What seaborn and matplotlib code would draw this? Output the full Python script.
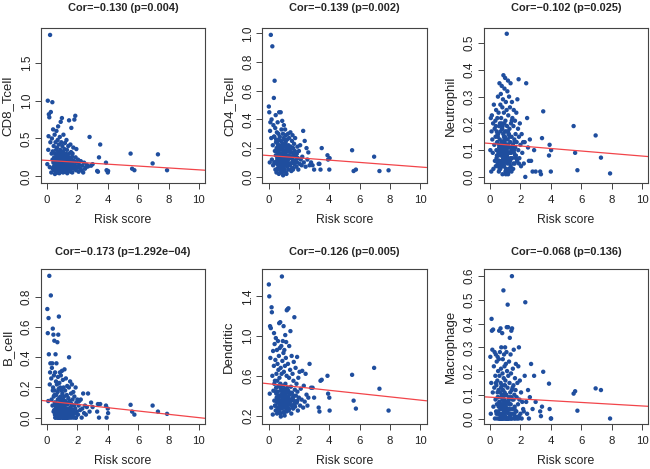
import numpy as np
import pandas as pd
import seaborn as sns
import matplotlib
matplotlib.use("Agg")
import matplotlib.pyplot as plt

# 风险评分（各面板共用同一批样本）
risk_score = [
    0.02, 0.05, 0.08, 0.10, 0.12, 0.15, 0.18, 0.20, 0.22, 0.25,
    0.28, 0.30, 0.32, 0.35, 0.36, 0.38, 0.40, 0.42, 0.44, 0.45,
    0.47, 0.48, 0.50, 0.52, 0.53, 0.55, 0.56, 0.58, 0.59, 0.60,
    0.61, 0.62, 0.64, 0.65, 0.66, 0.68, 0.69, 0.70, 0.71, 0.72,
    0.73, 0.74, 0.76, 0.77, 0.78, 0.80, 0.81, 0.82, 0.84, 0.85,
    0.86, 0.87, 0.88, 0.90, 0.91, 0.92, 0.94, 0.95, 0.96, 0.98,
    0.99, 1.00, 1.01, 1.02, 1.04, 1.05, 1.06, 1.08, 1.09, 1.10,
    1.11, 1.12, 1.14, 1.15, 1.16, 1.18, 1.19, 1.20, 1.22, 1.24,
    1.25, 1.27, 1.28, 1.30, 1.31, 1.33, 1.35, 1.36, 1.38, 1.40,
    1.42, 1.44, 1.45, 1.47, 1.50, 1.52, 1.54, 1.56, 1.58, 1.60,
    1.62, 1.64, 1.66, 1.68, 1.70, 1.73, 1.75, 1.78, 1.80, 1.84,
    1.86, 1.88, 1.90, 1.93, 1.96, 2.00, 2.04, 2.08, 2.12, 2.18,
    2.22, 2.28, 2.32, 2.38, 2.44, 2.50, 2.56, 2.62, 2.70, 2.80,
    0.54, 0.67, 0.79, 0.89, 0.97, 1.03, 1.13, 1.21, 1.29, 1.37,
    0.57, 0.75, 0.93, 1.07, 1.17, 1.26, 1.34, 1.46, 1.55, 1.65,
    2.90, 3.00, 3.30, 3.35, 3.42, 3.50, 3.88, 3.92, 4.00, 4.02,
    5.50, 5.60, 5.75, 6.95, 7.30, 7.90,
    0.43, 0.51, 0.63, 0.72, 0.83, 0.88, 0.96, 1.04, 1.12, 1.18,
    0.60, 0.70, 0.78, 0.86, 0.94, 1.01, 1.09, 1.23, 1.32, 1.43,
    0.66, 0.74, 0.82, 0.91, 0.99, 1.06, 1.15, 1.28, 1.41, 1.57,
    0.49, 0.59, 0.69, 0.77, 0.85, 1.00, 1.10, 1.19, 1.48, 1.70,
    0.38, 0.64, 0.81, 0.92, 1.05, 1.14, 1.24, 1.39, 1.61, 1.90,
]

cd8_tcell = [
    0.16, 1.00, 0.35, 0.53, 0.82, 0.78, 0.12, 1.87, 0.45, 0.85,
    0.05, 0.30, 0.50, 0.98, 0.22, 0.10, 0.62, 0.18, 0.40, 0.08,
    0.25, 0.12, 0.55, 0.03, 0.30, 0.18, 0.45, 0.08, 0.22, 0.35,
    0.14, 0.60, 0.28, 0.05, 0.38, 0.20, 0.10, 0.48, 0.25, 0.15,
    0.66, 0.32, 0.08, 0.22, 0.42, 0.16, 0.04, 0.28, 0.52, 0.12,
    0.20, 0.35, 0.06, 0.72, 0.15, 0.26, 0.45, 0.10, 0.30, 0.77,
    0.18, 0.08, 0.40, 0.24, 0.12, 0.32, 0.05, 0.55, 0.20, 0.14,
    0.28, 0.10, 0.36, 0.18, 0.06, 0.44, 0.22, 0.12, 0.30, 0.16,
    0.08, 0.26, 0.48, 0.14, 0.35, 0.04, 0.20, 0.28, 0.11, 0.40,
    0.18, 0.30, 0.74, 0.09, 0.24, 0.15, 0.42, 0.06, 0.32, 0.64,
    0.12, 0.22, 0.05, 0.30, 0.16, 0.38, 0.10, 0.20, 0.75, 0.14,
    0.80, 0.25, 0.08, 0.36, 0.18, 0.12, 0.22, 0.06, 0.15, 0.10,
    0.20, 0.08, 0.14, 0.05, 0.18, 0.10, 0.12, 0.15, 0.13, 0.52,
    0.10, 0.18, 0.26, 0.12, 0.20, 0.15, 0.24, 0.09, 0.17, 0.13,
    0.22, 0.13, 0.17, 0.28, 0.11, 0.19, 0.07, 0.21, 0.10, 0.26,
    0.14, 0.16, 0.07, 0.06, 0.25, 0.42, 0.18, 0.08, 0.05, 0.07,
    0.30, 0.10, 0.08, 0.17, 0.29, 0.08,
    0.12, 0.20, 0.08, 0.26, 0.15, 0.22, 0.10, 0.18, 0.28, 0.06,
    0.17, 0.09, 0.24, 0.14, 0.30, 0.11, 0.19, 0.07, 0.23, 0.13,
    0.21, 0.05, 0.16, 0.27, 0.09, 0.20, 0.13, 0.25, 0.08, 0.18,
    0.14, 0.24, 0.11, 0.19, 0.07, 0.29, 0.16, 0.10, 0.21, 0.12,
    0.33, 0.15, 0.22, 0.06, 0.17, 0.27, 0.09, 0.14, 0.19, 0.11,
]

cd4_tcell = [
    0.49, 0.45, 0.10, 0.32, 0.38, 0.99, 0.27, 0.40, 0.12, 0.91,
    0.22, 0.08, 0.36, 0.55, 0.28, 0.10, 0.67, 0.18, 0.34, 0.05,
    0.43, 0.15, 0.26, 0.03, 0.20, 0.31, 0.09, 0.24, 0.13, 0.38,
    0.06, 0.22, 0.12, 0.30, 0.17, 0.02, 0.26, 0.45, 0.10, 0.19,
    0.14, 0.28, 0.07, 0.21, 0.11, 0.45, 0.04, 0.25, 0.16, 0.33,
    0.09, 0.19, 0.13, 0.39, 0.06, 0.23, 0.15, 0.30, 0.01, 0.17,
    0.27, 0.10, 0.36, 0.14, 0.21, 0.05, 0.18, 0.12, 0.33, 0.08,
    0.16, 0.24, 0.09, 0.29, 0.13, 0.02, 0.20, 0.11, 0.26, 0.07,
    0.18, 0.12, 0.30, 0.05, 0.22, 0.15, 0.09, 0.27, 0.13, 0.19,
    0.08, 0.31, 0.14, 0.21, 0.04, 0.17, 0.25, 0.10, 0.29, 0.12,
    0.20, 0.06, 0.15, 0.23, 0.09, 0.18, 0.27, 0.11, 0.14, 0.07,
    0.16, 0.10, 0.21, 0.13, 0.05, 0.18, 0.09, 0.22, 0.12, 0.08,
    0.14, 0.32, 0.10, 0.25, 0.07, 0.20, 0.12, 0.17, 0.08, 0.10,
    0.11, 0.16, 0.08, 0.20, 0.13, 0.17, 0.10, 0.14, 0.21, 0.09,
    0.18, 0.12, 0.22, 0.09, 0.15, 0.11, 0.19, 0.13, 0.06, 0.16,
    0.08, 0.05, 0.09, 0.09, 0.05, 0.20, 0.15, 0.12, 0.05, 0.13,
    0.185, 0.04, 0.05, 0.14, 0.04, 0.045,
    0.10, 0.18, 0.06, 0.22, 0.13, 0.03, 0.16, 0.09, 0.25, 0.12,
    0.15, 0.07, 0.20, 0.11, 0.04, 0.17, 0.23, 0.08, 0.14, 0.19,
    0.05, 0.21, 0.12, 0.16, 0.09, 0.26, 0.03, 0.14, 0.18, 0.10,
    0.24, 0.13, 0.08, 0.19, 0.15, 0.06, 0.21, 0.11, 0.17, 0.09,
    0.28, 0.12, 0.16, 0.07, 0.22, 0.10, 0.14, 0.18, 0.05, 0.13,
]

neutrophil = [
    0.10, 0.22, 0.02, 0.17, 0.23, 0.14, 0.09, 0.20, 0.03, 0.27,
    0.12, 0.18, 0.06, 0.21, 0.15, 0.04, 0.25, 0.10, 0.17, 0.08,
    0.13, 0.22, 0.05, 0.30, 0.16, 0.09, 0.24, 0.02, 0.19, 0.11,
    0.06, 0.35, 0.14, 0.20, 0.03, 0.27, 0.10, 0.17, 0.31, 0.08,
    0.22, 0.05, 0.13, 0.34, 0.09, 0.18, 0.26, 0.01, 0.12, 0.29,
    0.07, 0.16, 0.38, 0.11, 0.24, 0.04, 0.20, 0.33, 0.09, 0.15,
    0.37, 0.06, 0.21, 0.12, 0.28, 0.03, 0.17, 0.10, 0.25, 0.535,
    0.08, 0.19, 0.32, 0.05, 0.14, 0.36, 0.11, 0.23, 0.02, 0.16,
    0.30, 0.09, 0.18, 0.06, 0.26, 0.13, 0.35, 0.04, 0.20, 0.10,
    0.15, 0.28, 0.07, 0.22, 0.12, 0.03, 0.19, 0.25, 0.09, 0.14,
    0.05, 0.21, 0.11, 0.16, 0.08, 0.24, 0.13, 0.06, 0.29, 0.18,
    0.10, 0.365, 0.15, 0.07, 0.20, 0.12, 0.04, 0.16, 0.09, 0.13,
    0.05, 0.13, 0.00, 0.35, 0.22, 0.11, 0.06, 0.14, 0.06, 0.02,
    0.08, 0.11, 0.06, 0.13, 0.10, 0.07, 0.12, 0.09, 0.05, 0.11,
    0.04, 0.10, 0.08, 0.06, 0.12, 0.09, 0.07, 0.11, 0.05, 0.08,
    0.10, 0.02, 0.02, 0.01, 0.145, 0.245, 0.08, 0.12, 0.02, 0.10,
    0.19, 0.09, 0.025, 0.155, 0.072, 0.013,
    0.07, 0.15, 0.03, 0.11, 0.19, 0.05, 0.13, 0.01, 0.09, 0.17,
    0.12, 0.04, 0.18, 0.08, 0.14, 0.02, 0.10, 0.16, 0.06, 0.21,
    0.03, 0.09, 0.13, 0.05, 0.17, 0.11, 0.07, 0.15, 0.02, 0.10,
    0.16, 0.06, 0.12, 0.20, 0.04, 0.14, 0.08, 0.01, 0.11, 0.07,
    0.19, 0.10, 0.04, 0.15, 0.07, 0.12, 0.03, 0.09, 0.13, 0.05,
]

b_cell = [
    0.72, 0.56, 0.11, 0.66, 0.42, 0.94, 0.22, 0.30, 0.36, 0.81,
    0.26, 0.12, 0.33, 0.36, 0.08, 0.59, 0.20, 0.55, 0.14, 0.28,
    0.05, 0.51, 0.18, 0.02, 0.30, 0.10, 0.42, 0.00, 0.24, 0.07,
    0.15, 0.36, 0.03, 0.22, 0.09, 0.50, 0.01, 0.17, 0.12, 0.27,
    0.04, 0.55, 0.19, 0.00, 0.67, 0.08, 0.23, 0.02, 0.13, 0.30,
    0.06, 0.20, 0.00, 0.14, 0.28, 0.03, 0.10, 0.18, 0.01, 0.31,
    0.09, 0.00, 0.16, 0.05, 0.25, 0.02, 0.12, 0.00, 0.20, 0.07,
    0.00, 0.14, 0.04, 0.32, 0.08, 0.00, 0.18, 0.03, 0.11, 0.26,
    0.02, 0.10, 0.00, 0.15, 0.06, 0.21, 0.01, 0.09, 0.00, 0.13,
    0.04, 0.20, 0.40, 0.00, 0.11, 0.24, 0.03, 0.07, 0.16, 0.00,
    0.09, 0.22, 0.02, 0.12, 0.05, 0.17, 0.00, 0.08, 0.14, 0.03,
    0.06, 0.20, 0.00, 0.10, 0.04, 0.12, 0.02, 0.08, 0.11, 0.05,
    0.12, 0.00, 0.06, 0.16, 0.03, 0.08, 0.02, 0.07, 0.16, 0.04,
    0.00, 0.05, 0.03, 0.07, 0.01, 0.04, 0.02, 0.06, 0.00, 0.03,
    0.02, 0.00, 0.05, 0.01, 0.03, 0.00, 0.04, 0.02, 0.06, 0.01,
    0.10, 0.07, 0.04, 0.09, 0.00, 0.09, 0.08, 0.00, 0.06, 0.03,
    0.085, 0.04, 0.02, 0.08, 0.04, 0.025,
    0.04, 0.10, 0.01, 0.07, 0.13, 0.00, 0.05, 0.09, 0.02, 0.06,
    0.08, 0.00, 0.12, 0.03, 0.06, 0.10, 0.01, 0.05, 0.00, 0.04,
    0.02, 0.07, 0.00, 0.11, 0.04, 0.00, 0.08, 0.03, 0.06, 0.01,
    0.15, 0.03, 0.09, 0.00, 0.05, 0.02, 0.07, 0.00, 0.04, 0.02,
    0.18, 0.06, 0.02, 0.08, 0.00, 0.04, 0.01, 0.05, 0.03, 0.00,
]

dendritic = [
    1.52, 1.40, 0.42, 1.10, 0.78, 1.08, 0.28, 1.29, 1.24, 0.60,
    0.21, 0.85, 0.45, 0.70, 1.03, 0.35, 0.92, 0.55, 0.30, 0.76,
    0.25, 0.98, 0.48, 0.62, 0.38, 0.86, 0.22, 0.55, 0.72, 0.33,
    0.44, 0.95, 0.28, 0.66, 0.50, 0.80, 0.36, 1.13, 0.24, 0.58,
    0.40, 0.88, 0.31, 1.14, 0.52, 0.68, 0.19, 0.45, 0.90, 0.35,
    0.62, 0.27, 1.60, 0.42, 0.75, 0.33, 0.95, 0.50, 0.23, 0.83,
    1.10, 0.38, 0.64, 0.29, 0.86, 0.46, 0.20, 0.70, 0.35, 1.01,
    0.52, 0.30, 0.78, 0.40, 0.94, 0.26, 0.60, 1.26, 0.37, 0.48,
    1.27, 0.33, 0.72, 0.45, 1.28, 0.25, 0.58, 0.90, 0.41, 0.31,
    0.66, 1.05, 0.36, 0.49, 0.22, 0.80, 0.43, 0.30, 0.62, 0.38,
    0.27, 0.55, 0.74, 0.35, 1.19, 0.46, 0.29, 0.68, 0.40, 0.52,
    0.33, 0.79, 0.44, 0.25, 0.58, 0.38, 0.64, 0.30, 0.47, 0.36,
    0.65, 0.28, 0.50, 0.34, 0.62, 0.41, 0.30, 0.38, 0.72, 0.48,
    0.34, 0.40, 0.28, 0.45, 0.37, 0.31, 0.43, 0.36, 0.39, 0.32,
    0.38, 0.33, 0.41, 0.30, 0.44, 0.35, 0.27, 0.42, 0.36, 0.40,
    0.48, 0.38, 0.28, 0.24, 0.55, 0.56, 0.60, 0.42, 0.38, 0.25,
    0.61, 0.35, 0.27, 0.68, 0.47, 0.25,
    0.30, 0.42, 0.26, 0.50, 0.35, 0.28, 0.45, 0.33, 0.39, 0.24,
    0.37, 0.29, 0.48, 0.32, 0.41, 0.23, 0.36, 0.44, 0.27, 0.34,
    0.25, 0.40, 0.31, 0.46, 0.28, 0.38, 0.33, 0.26, 0.42, 0.30,
    0.44, 0.27, 0.35, 0.22, 0.39, 0.31, 0.47, 0.29, 0.36, 0.32,
    0.52, 0.33, 0.29, 0.40, 0.24, 0.37, 0.30, 0.43, 0.28, 0.35,
]

macrophage = [
    0.26, 0.02, 0.15, 0.42, 0.37, 0.29, 0.11, 0.375, 0.05, 0.22,
    0.13, 0.28, 0.00, 0.18, 0.08, 0.27, 0.03, 0.14, 0.24, 0.06,
    0.00, 0.16, 0.26, 0.09, 0.20, 0.02, 0.12, 0.25, 0.00, 0.37,
    0.07, 0.18, 0.00, 0.28, 0.11, 0.04, 0.38, 0.15, 0.00, 0.21,
    0.09, 0.30, 0.02, 0.14, 0.00, 0.36, 0.06, 0.19, 0.25, 0.00,
    0.12, 0.04, 0.54, 0.17, 0.00, 0.27, 0.08, 0.22, 0.01, 0.14,
    0.30, 0.05, 0.16, 0.00, 0.23, 0.10, 0.03, 0.28, 0.00, 0.385,
    0.07, 0.20, 0.00, 0.13, 0.48, 0.04, 0.385, 0.18, 0.00, 0.09,
    0.24, 0.02, 0.15, 0.34, 0.00, 0.11, 0.27, 0.06, 0.19, 0.37,
    0.00, 0.60, 0.38, 0.08, 0.21, 0.02, 0.14, 0.29, 0.00, 0.10,
    0.05, 0.17, 0.00, 0.12, 0.23, 0.03, 0.09, 0.00, 0.15, 0.06,
    0.22, 0.00, 0.30, 0.08, 0.16, 0.02, 0.11, 0.00, 0.07, 0.04,
    0.03, 0.18, 0.49, 0.07, 0.02, 0.12, 0.00, 0.09, 0.23, 0.04,
    0.03, 0.06, 0.01, 0.08, 0.02, 0.05, 0.00, 0.07, 0.04, 0.02,
    0.05, 0.01, 0.07, 0.03, 0.00, 0.06, 0.02, 0.04, 0.08, 0.01,
    0.18, 0.07, 0.03, 0.01, 0.05, 0.197, 0.147, 0.04, 0.00, 0.00,
    0.105, 0.115, 0.033, 0.127, 0.12, 0.00,
    0.02, 0.09, 0.00, 0.13, 0.05, 0.01, 0.11, 0.03, 0.07, 0.00,
    0.06, 0.00, 0.10, 0.02, 0.14, 0.04, 0.00, 0.08, 0.01, 0.12,
    0.00, 0.04, 0.08, 0.01, 0.00, 0.10, 0.03, 0.06, 0.00, 0.02,
    0.11, 0.02, 0.05, 0.00, 0.09, 0.01, 0.04, 0.00, 0.13, 0.03,
    0.15, 0.07, 0.00, 0.03, 0.06, 0.00, 0.02, 0.09, 0.04, 0.01,
]

cell_names = ["CD8_Tcell", "CD4_Tcell", "Neutrophil", "B_cell", "Dendritic", "Macrophage"]
cell_values = [cd8_tcell, cd4_tcell, neutrophil, b_cell, dendritic, macrophage]
cor_values = [-0.130, -0.139, -0.102, -0.173, -0.126, -0.068]
p_labels = ["0.004", "0.002", "0.025", "1.292e\u221204", "0.005", "0.136"]
# 拟合线（截距、斜率，从图上读取）
fit_intercept = [0.210, 0.148, 0.125, 0.110, 0.520, 0.090]
fit_slope = [-0.0125, -0.0080, -0.0047, -0.0110, -0.0165, -0.0037]

y_ticks = [
    [0.0, 0.5, 1.0, 1.5],
    [0.0, 0.2, 0.4, 0.6, 0.8, 1.0],
    [0.0, 0.1, 0.2, 0.3, 0.4, 0.5],
    [0.0, 0.2, 0.4, 0.6, 0.8],
    [0.2, 0.6, 1.0, 1.4],
    [0.0, 0.1, 0.2, 0.3, 0.4, 0.5, 0.6],
]
y_limits = [(-0.09, 1.96), (-0.044, 1.037), (-0.023, 0.556),
            (-0.042, 0.985), (0.115, 1.675), (-0.023, 0.630)]

sns.set_style("ticks")
plt.rcParams["font.family"] = ["Liberation Sans", "DejaVu Sans"]

point_color = "#1F4E9E"
line_color = "#F2454A"
frame_color = "#444444"
text_color = "#222222"

fig, axes = plt.subplots(2, 3, figsize=(6.5, 4.69), dpi=100)
plt.subplots_adjust(left=0.063, right=0.997, bottom=0.096, top=0.940,
                    wspace=0.35, hspace=0.555)

for i, ax in enumerate(axes.flat):
    df = pd.DataFrame({"Risk score": risk_score, cell_names[i]: cell_values[i]})
    sns.scatterplot(data=df, x="Risk score", y=cell_names[i], ax=ax,
                    s=10, color=point_color, edgecolor="none", linewidth=0)
    ax.axline((0, fit_intercept[i]), slope=fit_slope[i], color=line_color, lw=0.9)

    ax.set_xlim(-0.4, 10.4)
    ax.set_ylim(*y_limits[i])
    ax.set_xticks([0, 2, 4, 6, 8, 10])
    ax.set_yticks(y_ticks[i])
    ax.set_yticklabels([f"{v:.1f}" for v in y_ticks[i]], rotation=90, va="center")
    ax.tick_params(axis="both", length=4, width=0.7, color=frame_color,
                   labelcolor=text_color)
    ax.tick_params(axis="x", pad=4.5, labelsize=8.2)
    ax.tick_params(axis="y", pad=2, labelsize=8.5)
    for sp in ax.spines.values():
        sp.set_visible(True)
        sp.set_color(frame_color)
        sp.set_linewidth(0.8)

    ax.set_xlabel("Risk score", fontsize=8.8, labelpad=6.5, color=text_color)
    ax.set_ylabel(cell_names[i], fontsize=9.5, labelpad=5, color=text_color)
    cor_txt = f"{cor_values[i]:.3f}".replace("-", "\u2212")
    ax.set_title(f"Cor={cor_txt} (p={p_labels[i]})", fontsize=7.9,
                 fontweight="bold", pad=12 if i < 3 else 10)

plt.savefig("out.png", dpi=100)
